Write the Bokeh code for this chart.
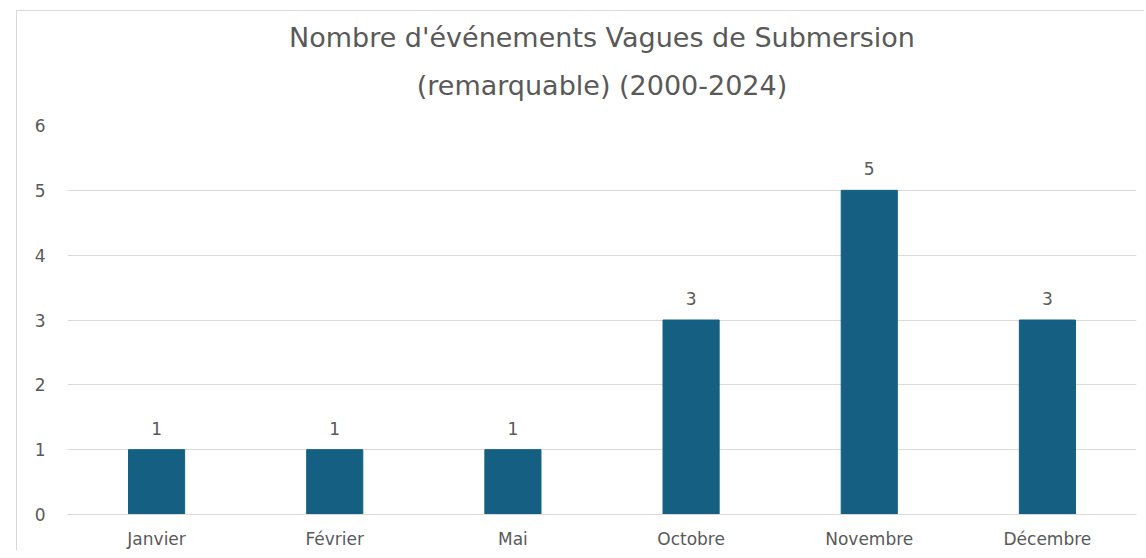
from bokeh.plotting import figure
from bokeh.models import ColumnDataSource, Range1d, Title, FixedTicker
from bokeh.embed import file_html
from bokeh.resources import INLINE
from bokeh.core.properties import value

months = ["Janvier", "Février", "Mai", "Octobre", "Novembre", "Décembre"]
counts = [1, 1, 1, 3, 5, 3]
y_ticks = [0, 1, 2, 3, 4, 5, 6]
title_line1 = "Nombre d'événements Vagues de Submersion"
title_line2 = "(remarquable) (2000-2024)"

FONT = "DejaVu Sans"
GREY = "#595959"
BAR = "#156082"
GRID = "#d9d9d9"

src = ColumnDataSource(dict(month=months, count=counts, label=[str(c) for c in counts]))

p = figure(x_range=months, y_range=Range1d(0, 6), width=1128, height=540,
           output_backend="svg", toolbar_location=None,
           min_border_left=50, min_border_right=9, min_border_top=114, min_border_bottom=36)
p.margin = (10, 0, 0, 16)
p.styles = {"border-left": "1px solid #d9d9d9", "border-top": "1px solid #d9d9d9"}
p.x_range.range_padding = 0
p.title = None

t2 = Title(text=title_line2, align="center", text_font=FONT, text_font_size="27px",
           text_font_style="normal", text_color=GREY, standoff=50)
t1 = Title(text=title_line1, align="center", text_font=FONT, text_font_size="27px",
           text_font_style="normal", text_color=GREY, standoff=-21)
p.add_layout(t2, "above")
p.add_layout(t1, "above")

p.vbar(x="month", top="count", width=0.315, source=src, fill_color=BAR, line_color=BAR)
p.text(x="month", y="count", text="label", source=src, text_align="center",
       text_baseline="bottom", y_offset=-15, text_font=value(FONT),
       text_font_size="17px", text_color=GREY)

p.outline_line_color = None
p.background_fill_color = "white"
p.border_fill_color = "white"
p.xgrid.grid_line_color = None
p.ygrid.grid_line_color = GRID
p.ygrid.grid_line_width = 1

p.yaxis.ticker = FixedTicker(ticks=y_ticks)
p.yaxis.axis_line_color = None
p.yaxis.major_tick_line_color = None
p.yaxis.minor_tick_line_color = None
p.yaxis.major_tick_out = 0
p.yaxis.major_label_standoff = 22
p.xaxis.axis_line_color = GRID
p.xaxis.major_tick_line_color = None
p.xaxis.major_tick_out = 0
p.xaxis.major_label_standoff = 14
for ax in (p.xaxis, p.yaxis):
    ax.major_label_text_font = FONT
    ax.major_label_text_font_size = "17px"
    ax.major_label_text_color = GREY

open("out.html", "w").write(file_html(p, INLINE))
